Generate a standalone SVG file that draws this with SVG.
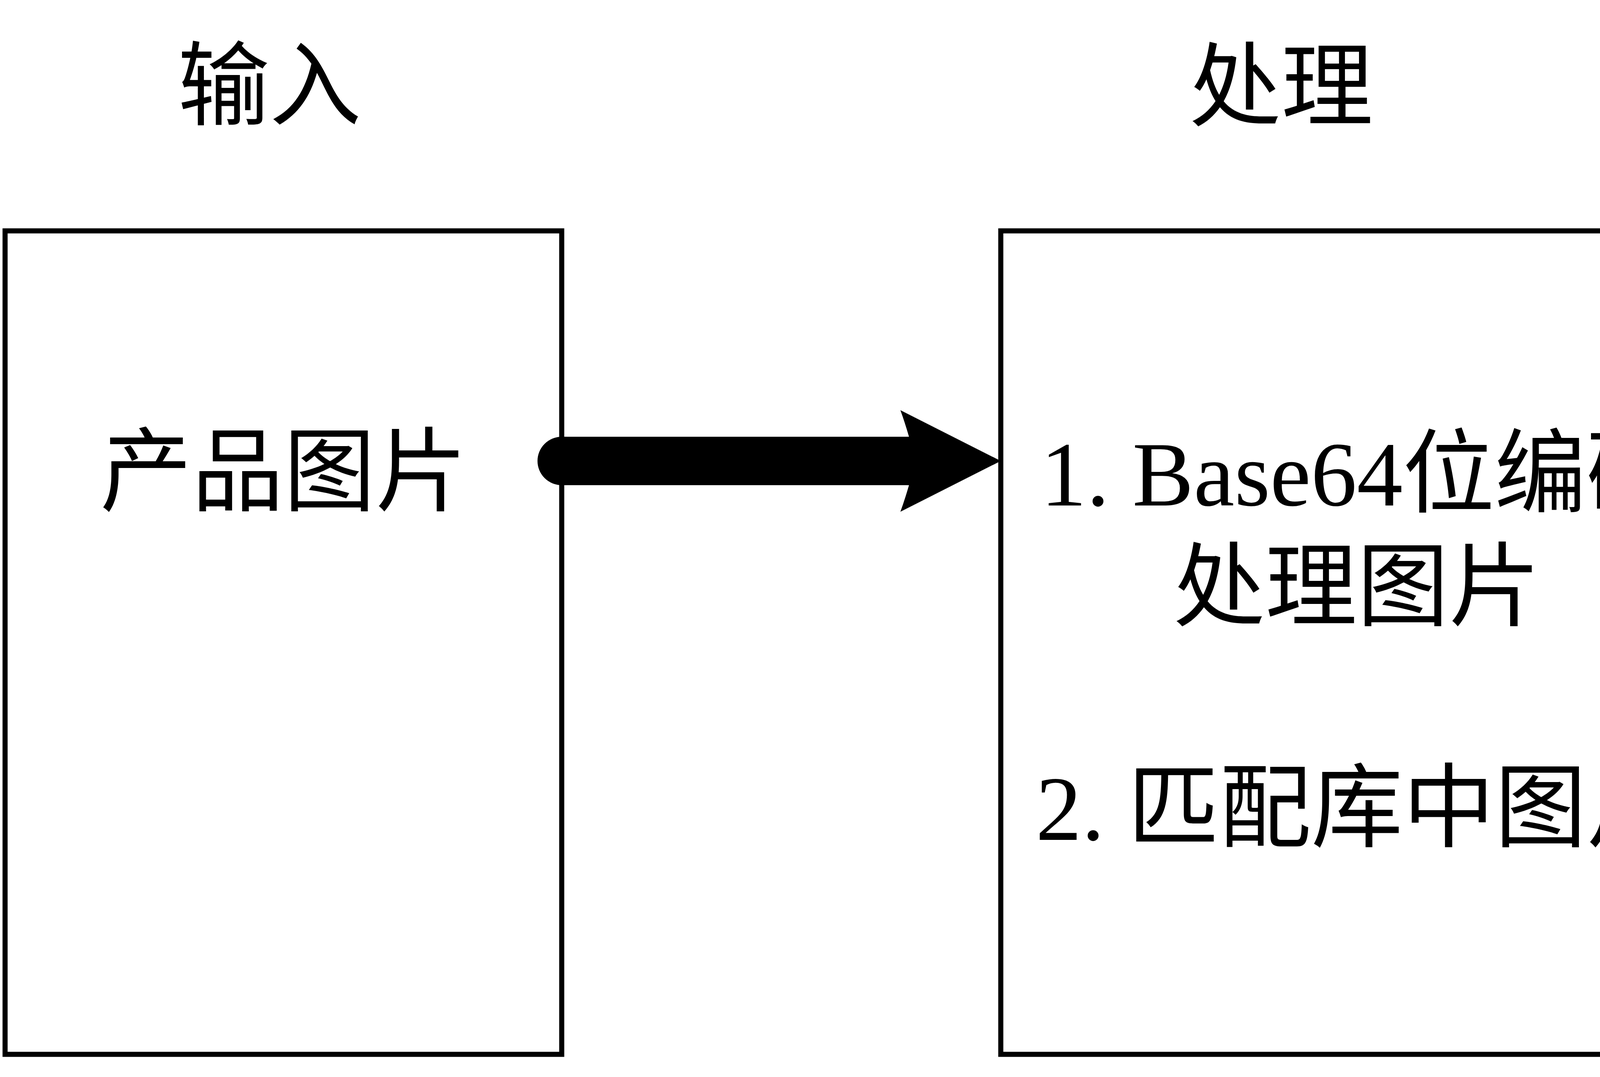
<svg xmlns="http://www.w3.org/2000/svg" width="7093" height="2757" viewBox="0 0 7093 2757">
<style>
.box{fill:#fff;stroke:#000;stroke-width:13}
.t{font-family:"Liberation Serif","Noto Sans CJK SC",serif;font-size:235px;fill:#000;text-anchor:middle}
.arr{fill:#000;stroke:none}
</style>
<rect width="7093" height="2757" fill="#fff"/>
<g id="title-input-left"><text class="t" x="690" y="302">输入</text></g>
<g id="title-process"><text class="t" x="3280" y="304">处理</text></g>
<g id="title-input-right"><text class="t" x="6211" y="304">输入</text></g>
<g id="node-product-image">
<rect class="box" x="13" y="591" width="1425" height="2108"/>
<text class="t" x="726" y="1290">产品图片</text>
</g>
<g id="node-process">
<rect class="box" x="2562" y="591" width="1828" height="2108"/>
<text class="t" x="3480" y="1294">1. Base64位编码</text>
<text class="t" x="3474" y="1584">处理图片</text>
<text class="t" x="3474" y="2150">2. 匹配库中图片</text>
</g>
<g id="node-result">
<rect class="box" x="5366" y="591" width="1705" height="2108"/>
<text class="t" x="6216" y="1294">返回匹配到的</text>
<text class="t" x="6216" y="1582">产品信息</text>
</g>
<g id="connectors">
<path class="arr" transform="translate(1438,1180)" d="M0,-62 L889,-62 Q878,-100 867,-130 L1124,0 L867,130 Q878,100 889,62 L0,62 A62,62 0 0 1 0,-62 Z"/>
<path class="arr" transform="translate(4366,2080) rotate(-38.3)" d="M0,-62 L1030,-62 Q1019,-100 1008,-130 L1265,0 L1008,130 Q1019,100 1030,62 L0,62 A62,62 0 0 1 0,-62 Z"/>
</g>
</svg>
